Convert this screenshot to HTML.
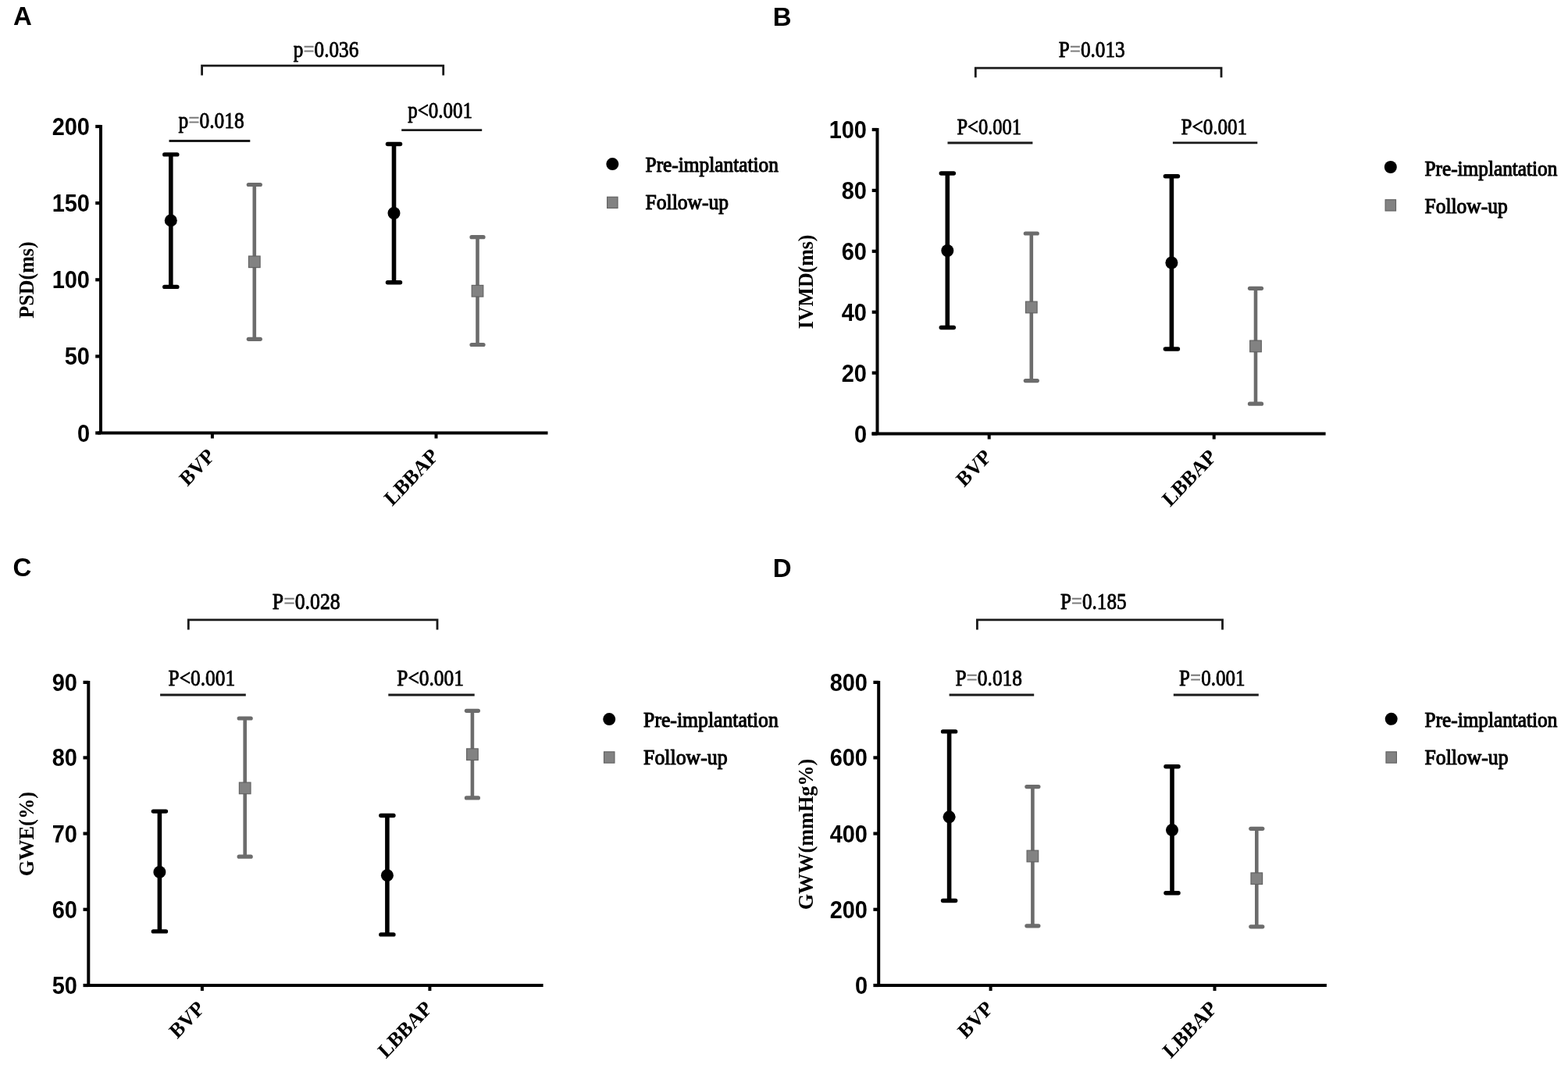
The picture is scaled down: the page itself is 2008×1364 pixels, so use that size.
<!DOCTYPE html>
<html><head><meta charset="utf-8"><title>Figure</title>
<style>html,body{margin:0;padding:0;background:#fff;overflow:hidden;} svg{display:block;}</style>
</head><body>
<svg width="2008" height="1364" viewBox="0 0 2008 1364">
<rect width="2008" height="1364" fill="#fff"/>
<path d="M129 160 V554.5 M125 554.5 H701.5" stroke="#000" stroke-width="4" fill="none"/>
<line x1="122.2" y1="554.5" x2="129" y2="554.5" stroke="#000" stroke-width="4.2"/>
<line x1="122.2" y1="456.4" x2="129" y2="456.4" stroke="#000" stroke-width="4.2"/>
<line x1="122.2" y1="358.3" x2="129" y2="358.3" stroke="#000" stroke-width="4.2"/>
<line x1="122.2" y1="260.1" x2="129" y2="260.1" stroke="#000" stroke-width="4.2"/>
<line x1="122.2" y1="162" x2="129" y2="162" stroke="#000" stroke-width="4.2"/>
<line x1="271.9" y1="554.5" x2="271.9" y2="561.5" stroke="#000" stroke-width="4"/>
<line x1="558.5" y1="554.5" x2="558.5" y2="561.5" stroke="#000" stroke-width="4"/>
<line x1="218.8" y1="197.9" x2="218.8" y2="367.4" stroke="#000" stroke-width="5.6"/>
<line x1="210.75" y1="197.9" x2="226.85" y2="197.9" stroke="#000" stroke-width="5.4" stroke-linecap="round"/>
<line x1="210.75" y1="367.4" x2="226.85" y2="367.4" stroke="#000" stroke-width="5.4" stroke-linecap="round"/>
<circle cx="218.8" cy="282.4" r="8" fill="#000"/>
<line x1="325.8" y1="236.5" x2="325.8" y2="434.3" stroke="#6c6c6c" stroke-width="4.6"/>
<line x1="318.30" y1="236.5" x2="333.30" y2="236.5" stroke="#6c6c6c" stroke-width="5.2" stroke-linecap="round"/>
<line x1="318.30" y1="434.3" x2="333.30" y2="434.3" stroke="#6c6c6c" stroke-width="5.2" stroke-linecap="round"/>
<rect x="318.50" y="328.00" width="14.6" height="14.6" fill="#828282" stroke="#636363" stroke-width="1.2"/>
<line x1="504.5" y1="184.5" x2="504.5" y2="361.7" stroke="#000" stroke-width="5.6"/>
<line x1="496.45" y1="184.5" x2="512.55" y2="184.5" stroke="#000" stroke-width="5.4" stroke-linecap="round"/>
<line x1="496.45" y1="361.7" x2="512.55" y2="361.7" stroke="#000" stroke-width="5.4" stroke-linecap="round"/>
<circle cx="504.5" cy="273" r="8" fill="#000"/>
<line x1="611.5" y1="303.7" x2="611.5" y2="441.5" stroke="#6c6c6c" stroke-width="4.6"/>
<line x1="604.00" y1="303.7" x2="619.00" y2="303.7" stroke="#6c6c6c" stroke-width="5.2" stroke-linecap="round"/>
<line x1="604.00" y1="441.5" x2="619.00" y2="441.5" stroke="#6c6c6c" stroke-width="5.2" stroke-linecap="round"/>
<rect x="604.20" y="365.40" width="14.6" height="14.6" fill="#828282" stroke="#636363" stroke-width="1.2"/>
<line x1="216.5" y1="180.5" x2="320.3" y2="180.5" stroke="#1a1a1a" stroke-width="2.8"/>
<line x1="514.2" y1="166.7" x2="617.2" y2="166.7" stroke="#1a1a1a" stroke-width="2.8"/>
<path d="M258.6 96.5 V84.2 H567.7 V96.5" stroke="#1a1a1a" stroke-width="2.8" fill="none"/>
<circle cx="784.3" cy="210.1" r="8" fill="#000"/>
<rect x="777.60" y="252.30" width="13.4" height="14.2" fill="#828282" stroke="#636363" stroke-width="1.2"/>
<path d="M1123.5 164 V555.5 M1116.4 555.5 H1697.6" stroke="#000" stroke-width="4" fill="none"/>
<line x1="1116.7" y1="555.5" x2="1123.5" y2="555.5" stroke="#000" stroke-width="4.2"/>
<line x1="1116.7" y1="477.6" x2="1123.5" y2="477.6" stroke="#000" stroke-width="4.2"/>
<line x1="1116.7" y1="399.7" x2="1123.5" y2="399.7" stroke="#000" stroke-width="4.2"/>
<line x1="1116.7" y1="321.8" x2="1123.5" y2="321.8" stroke="#000" stroke-width="4.2"/>
<line x1="1116.7" y1="243.9" x2="1123.5" y2="243.9" stroke="#000" stroke-width="4.2"/>
<line x1="1116.7" y1="166" x2="1123.5" y2="166" stroke="#000" stroke-width="4.2"/>
<line x1="1266.7" y1="555.5" x2="1266.7" y2="562.5" stroke="#000" stroke-width="4"/>
<line x1="1554.7" y1="555.5" x2="1554.7" y2="562.5" stroke="#000" stroke-width="4"/>
<line x1="1213.3" y1="222" x2="1213.3" y2="419.5" stroke="#000" stroke-width="5.6"/>
<line x1="1205.25" y1="222" x2="1221.35" y2="222" stroke="#000" stroke-width="5.4" stroke-linecap="round"/>
<line x1="1205.25" y1="419.5" x2="1221.35" y2="419.5" stroke="#000" stroke-width="5.4" stroke-linecap="round"/>
<circle cx="1213.3" cy="321" r="8" fill="#000"/>
<line x1="1320.8" y1="299" x2="1320.8" y2="487.6" stroke="#6c6c6c" stroke-width="4.6"/>
<line x1="1313.30" y1="299" x2="1328.30" y2="299" stroke="#6c6c6c" stroke-width="5.2" stroke-linecap="round"/>
<line x1="1313.30" y1="487.6" x2="1328.30" y2="487.6" stroke="#6c6c6c" stroke-width="5.2" stroke-linecap="round"/>
<rect x="1313.50" y="386.20" width="14.6" height="14.6" fill="#828282" stroke="#636363" stroke-width="1.2"/>
<line x1="1500.4" y1="225.8" x2="1500.4" y2="447" stroke="#000" stroke-width="5.6"/>
<line x1="1492.35" y1="225.8" x2="1508.45" y2="225.8" stroke="#000" stroke-width="5.4" stroke-linecap="round"/>
<line x1="1492.35" y1="447" x2="1508.45" y2="447" stroke="#000" stroke-width="5.4" stroke-linecap="round"/>
<circle cx="1500.4" cy="336.5" r="8" fill="#000"/>
<line x1="1608" y1="369.3" x2="1608" y2="517.2" stroke="#6c6c6c" stroke-width="4.6"/>
<line x1="1600.50" y1="369.3" x2="1615.50" y2="369.3" stroke="#6c6c6c" stroke-width="5.2" stroke-linecap="round"/>
<line x1="1600.50" y1="517.2" x2="1615.50" y2="517.2" stroke="#6c6c6c" stroke-width="5.2" stroke-linecap="round"/>
<rect x="1600.70" y="436.10" width="14.6" height="14.6" fill="#828282" stroke="#636363" stroke-width="1.2"/>
<line x1="1213.5" y1="183" x2="1322.4" y2="183" stroke="#1a1a1a" stroke-width="2.8"/>
<line x1="1501.9" y1="182.8" x2="1610.3" y2="182.8" stroke="#1a1a1a" stroke-width="2.8"/>
<path d="M1249.3 99.2 V87.1 H1564 V99.2" stroke="#1a1a1a" stroke-width="2.8" fill="none"/>
<circle cx="1780.8" cy="214" r="8" fill="#000"/>
<rect x="1774.10" y="255.80" width="13.4" height="14.2" fill="#828282" stroke="#636363" stroke-width="1.2"/>
<path d="M113.3 871.9 V1262 M107.6 1262 H695.6" stroke="#000" stroke-width="4" fill="none"/>
<line x1="106.5" y1="1262" x2="113.3" y2="1262" stroke="#000" stroke-width="4.2"/>
<line x1="106.5" y1="1164.8" x2="113.3" y2="1164.8" stroke="#000" stroke-width="4.2"/>
<line x1="106.5" y1="1067.6" x2="113.3" y2="1067.6" stroke="#000" stroke-width="4.2"/>
<line x1="106.5" y1="970.4" x2="113.3" y2="970.4" stroke="#000" stroke-width="4.2"/>
<line x1="106.5" y1="873.9" x2="113.3" y2="873.9" stroke="#000" stroke-width="4.2"/>
<line x1="258.9" y1="1262" x2="258.9" y2="1269" stroke="#000" stroke-width="4"/>
<line x1="550.4" y1="1262" x2="550.4" y2="1269" stroke="#000" stroke-width="4"/>
<line x1="204.4" y1="1039.1" x2="204.4" y2="1192.9" stroke="#000" stroke-width="5.6"/>
<line x1="196.35" y1="1039.1" x2="212.45" y2="1039.1" stroke="#000" stroke-width="5.4" stroke-linecap="round"/>
<line x1="196.35" y1="1192.9" x2="212.45" y2="1192.9" stroke="#000" stroke-width="5.4" stroke-linecap="round"/>
<circle cx="204.4" cy="1116.9" r="8" fill="#000"/>
<line x1="313.7" y1="920" x2="313.7" y2="1097.2" stroke="#6c6c6c" stroke-width="4.6"/>
<line x1="306.20" y1="920" x2="321.20" y2="920" stroke="#6c6c6c" stroke-width="5.2" stroke-linecap="round"/>
<line x1="306.20" y1="1097.2" x2="321.20" y2="1097.2" stroke="#6c6c6c" stroke-width="5.2" stroke-linecap="round"/>
<rect x="306.40" y="1002.10" width="14.6" height="14.6" fill="#828282" stroke="#636363" stroke-width="1.2"/>
<line x1="495.9" y1="1044.5" x2="495.9" y2="1196.9" stroke="#000" stroke-width="5.6"/>
<line x1="487.85" y1="1044.5" x2="503.95" y2="1044.5" stroke="#000" stroke-width="5.4" stroke-linecap="round"/>
<line x1="487.85" y1="1196.9" x2="503.95" y2="1196.9" stroke="#000" stroke-width="5.4" stroke-linecap="round"/>
<circle cx="495.9" cy="1121.2" r="8" fill="#000"/>
<line x1="604.9" y1="910.3" x2="604.9" y2="1021.9" stroke="#6c6c6c" stroke-width="4.6"/>
<line x1="597.40" y1="910.3" x2="612.40" y2="910.3" stroke="#6c6c6c" stroke-width="5.2" stroke-linecap="round"/>
<line x1="597.40" y1="1021.9" x2="612.40" y2="1021.9" stroke="#6c6c6c" stroke-width="5.2" stroke-linecap="round"/>
<rect x="597.60" y="958.90" width="14.6" height="14.6" fill="#828282" stroke="#636363" stroke-width="1.2"/>
<line x1="205.1" y1="890" x2="314.8" y2="890" stroke="#1a1a1a" stroke-width="2.8"/>
<line x1="497.3" y1="890" x2="607.7" y2="890" stroke="#1a1a1a" stroke-width="2.8"/>
<path d="M241.3 806.5 V793.9 H560 V806.5" stroke="#1a1a1a" stroke-width="2.8" fill="none"/>
<circle cx="780.2" cy="921.1" r="8" fill="#000"/>
<rect x="773.50" y="962.90" width="13.4" height="14.2" fill="#828282" stroke="#636363" stroke-width="1.2"/>
<path d="M1125.2 871.9 V1262 M1119.8 1262 H1698.9" stroke="#000" stroke-width="4" fill="none"/>
<line x1="1118.4" y1="1262" x2="1125.2" y2="1262" stroke="#000" stroke-width="4.2"/>
<line x1="1118.4" y1="1164.8" x2="1125.2" y2="1164.8" stroke="#000" stroke-width="4.2"/>
<line x1="1118.4" y1="1067.6" x2="1125.2" y2="1067.6" stroke="#000" stroke-width="4.2"/>
<line x1="1118.4" y1="970.4" x2="1125.2" y2="970.4" stroke="#000" stroke-width="4.2"/>
<line x1="1118.4" y1="873.9" x2="1125.2" y2="873.9" stroke="#000" stroke-width="4.2"/>
<line x1="1268.6" y1="1262" x2="1268.6" y2="1269" stroke="#000" stroke-width="4"/>
<line x1="1555.5" y1="1262" x2="1555.5" y2="1269" stroke="#000" stroke-width="4"/>
<line x1="1215.6" y1="936.9" x2="1215.6" y2="1153.5" stroke="#000" stroke-width="5.6"/>
<line x1="1207.55" y1="936.9" x2="1223.65" y2="936.9" stroke="#000" stroke-width="5.4" stroke-linecap="round"/>
<line x1="1207.55" y1="1153.5" x2="1223.65" y2="1153.5" stroke="#000" stroke-width="5.4" stroke-linecap="round"/>
<circle cx="1215.6" cy="1046.3" r="8" fill="#000"/>
<line x1="1322.4" y1="1007.6" x2="1322.4" y2="1185.8" stroke="#6c6c6c" stroke-width="4.6"/>
<line x1="1314.90" y1="1007.6" x2="1329.90" y2="1007.6" stroke="#6c6c6c" stroke-width="5.2" stroke-linecap="round"/>
<line x1="1314.90" y1="1185.8" x2="1329.90" y2="1185.8" stroke="#6c6c6c" stroke-width="5.2" stroke-linecap="round"/>
<rect x="1315.10" y="1089.20" width="14.6" height="14.6" fill="#828282" stroke="#636363" stroke-width="1.2"/>
<line x1="1501" y1="981.7" x2="1501" y2="1143.8" stroke="#000" stroke-width="5.6"/>
<line x1="1492.95" y1="981.7" x2="1509.05" y2="981.7" stroke="#000" stroke-width="5.4" stroke-linecap="round"/>
<line x1="1492.95" y1="1143.8" x2="1509.05" y2="1143.8" stroke="#000" stroke-width="5.4" stroke-linecap="round"/>
<circle cx="1501" cy="1063.1" r="8" fill="#000"/>
<line x1="1609.3" y1="1061.3" x2="1609.3" y2="1186.8" stroke="#6c6c6c" stroke-width="4.6"/>
<line x1="1601.80" y1="1061.3" x2="1616.80" y2="1061.3" stroke="#6c6c6c" stroke-width="5.2" stroke-linecap="round"/>
<line x1="1601.80" y1="1186.8" x2="1616.80" y2="1186.8" stroke="#6c6c6c" stroke-width="5.2" stroke-linecap="round"/>
<rect x="1602.00" y="1117.90" width="14.6" height="14.6" fill="#828282" stroke="#636363" stroke-width="1.2"/>
<line x1="1215.6" y1="890" x2="1324.2" y2="890" stroke="#1a1a1a" stroke-width="2.8"/>
<line x1="1502.8" y1="890" x2="1611.8" y2="890" stroke="#1a1a1a" stroke-width="2.8"/>
<path d="M1251.4 806.5 V793.9 H1565.5 V806.5" stroke="#1a1a1a" stroke-width="2.8" fill="none"/>
<circle cx="1781.7" cy="920.8" r="8" fill="#000"/>
<rect x="1775.00" y="962.90" width="13.4" height="14.2" fill="#828282" stroke="#636363" stroke-width="1.2"/>
<text x="16.90" y="32.20" font-family='"Liberation Sans", Arial, sans-serif' font-size="33" font-weight="bold" fill="#000">A</text>
<text x="115.00" y="565.50" font-family='"Liberation Sans", Arial, sans-serif' font-size="31" font-weight="bold" fill="#000" text-anchor="end" textLength="16.12" lengthAdjust="spacingAndGlyphs">0</text>
<text x="115.00" y="467.40" font-family='"Liberation Sans", Arial, sans-serif' font-size="31" font-weight="bold" fill="#000" text-anchor="end" textLength="32.24" lengthAdjust="spacingAndGlyphs">50</text>
<text x="115.00" y="369.30" font-family='"Liberation Sans", Arial, sans-serif' font-size="31" font-weight="bold" fill="#000" text-anchor="end" textLength="48.36" lengthAdjust="spacingAndGlyphs">100</text>
<text x="115.00" y="271.10" font-family='"Liberation Sans", Arial, sans-serif' font-size="31" font-weight="bold" fill="#000" text-anchor="end" textLength="48.36" lengthAdjust="spacingAndGlyphs">150</text>
<text x="115.00" y="173.00" font-family='"Liberation Sans", Arial, sans-serif' font-size="31" font-weight="bold" fill="#000" text-anchor="end" textLength="48.36" lengthAdjust="spacingAndGlyphs">200</text>
<text transform="translate(276.40,585.50) scale(0.955,1) rotate(-45)" font-family='"Liberation Serif", "Times New Roman", serif' font-size="27" font-weight="bold" fill="#000" text-anchor="end">BVP</text>
<text transform="translate(563.00,585.50) scale(0.955,1) rotate(-45)" font-family='"Liberation Serif", "Times New Roman", serif' font-size="27" font-weight="bold" fill="#000" text-anchor="end">LBBAP</text>
<text transform="translate(43.20,358.55) rotate(-90)" font-family='"Liberation Serif", "Times New Roman", serif' font-size="27" font-weight="bold" fill="#000" text-anchor="middle" textLength="98.30" lengthAdjust="spacingAndGlyphs">PSD(ms)</text>
<text x="228.50" y="164.30" font-family='"Liberation Serif", "Times New Roman", serif' font-size="30" font-weight="normal" fill="#000" stroke="#000" stroke-width="0.9" stroke-linejoin="round" textLength="84.23" lengthAdjust="spacingAndGlyphs">p<tspan fill="#7a7a7a" stroke="#7a7a7a" stroke-width="0.3">=</tspan>0.018</text>
<text x="522.20" y="150.80" font-family='"Liberation Serif", "Times New Roman", serif' font-size="30" font-weight="normal" fill="#000" stroke="#000" stroke-width="0.9" stroke-linejoin="round" textLength="82.83" lengthAdjust="spacingAndGlyphs">p&lt;0.001</text>
<text x="375.80" y="73.20" font-family='"Liberation Serif", "Times New Roman", serif' font-size="30" font-weight="normal" fill="#000" stroke="#000" stroke-width="0.9" stroke-linejoin="round" textLength="83.42" lengthAdjust="spacingAndGlyphs">p<tspan fill="#7a7a7a" stroke="#7a7a7a" stroke-width="0.3">=</tspan>0.036</text>
<text x="826.60" y="220.40" font-family='"Liberation Serif", "Times New Roman", serif' font-size="26.5" font-weight="normal" fill="#000" stroke="#000" stroke-width="1.1" stroke-linejoin="round" textLength="170.22" lengthAdjust="spacingAndGlyphs">Pre-implantation</text>
<text x="826.60" y="268.40" font-family='"Liberation Serif", "Times New Roman", serif' font-size="26.5" font-weight="normal" fill="#000" stroke="#000" stroke-width="1.1" stroke-linejoin="round" textLength="106.46" lengthAdjust="spacingAndGlyphs">Follow-up</text>
<text x="989.80" y="32.60" font-family='"Liberation Sans", Arial, sans-serif' font-size="33" font-weight="bold" fill="#000">B</text>
<text x="1110.00" y="566.50" font-family='"Liberation Sans", Arial, sans-serif' font-size="31" font-weight="bold" fill="#000" text-anchor="end" textLength="16.12" lengthAdjust="spacingAndGlyphs">0</text>
<text x="1110.00" y="488.60" font-family='"Liberation Sans", Arial, sans-serif' font-size="31" font-weight="bold" fill="#000" text-anchor="end" textLength="32.24" lengthAdjust="spacingAndGlyphs">20</text>
<text x="1110.00" y="410.70" font-family='"Liberation Sans", Arial, sans-serif' font-size="31" font-weight="bold" fill="#000" text-anchor="end" textLength="32.24" lengthAdjust="spacingAndGlyphs">40</text>
<text x="1110.00" y="332.80" font-family='"Liberation Sans", Arial, sans-serif' font-size="31" font-weight="bold" fill="#000" text-anchor="end" textLength="32.24" lengthAdjust="spacingAndGlyphs">60</text>
<text x="1110.00" y="254.90" font-family='"Liberation Sans", Arial, sans-serif' font-size="31" font-weight="bold" fill="#000" text-anchor="end" textLength="32.24" lengthAdjust="spacingAndGlyphs">80</text>
<text x="1110.00" y="177.00" font-family='"Liberation Sans", Arial, sans-serif' font-size="31" font-weight="bold" fill="#000" text-anchor="end" textLength="48.36" lengthAdjust="spacingAndGlyphs">100</text>
<text transform="translate(1271.20,586.50) scale(0.955,1) rotate(-45)" font-family='"Liberation Serif", "Times New Roman", serif' font-size="27" font-weight="bold" fill="#000" text-anchor="end">BVP</text>
<text transform="translate(1559.20,586.50) scale(0.955,1) rotate(-45)" font-family='"Liberation Serif", "Times New Roman", serif' font-size="27" font-weight="bold" fill="#000" text-anchor="end">LBBAP</text>
<text transform="translate(1041.30,360.90) rotate(-90)" font-family='"Liberation Serif", "Times New Roman", serif' font-size="27" font-weight="bold" fill="#000" text-anchor="middle" textLength="120.80" lengthAdjust="spacingAndGlyphs">IVMD(ms)</text>
<text x="1225.50" y="172.40" font-family='"Liberation Serif", "Times New Roman", serif' font-size="30" font-weight="normal" fill="#000" stroke="#000" stroke-width="0.9" stroke-linejoin="round" textLength="82.54" lengthAdjust="spacingAndGlyphs">P&lt;0.001</text>
<text x="1512.60" y="172.40" font-family='"Liberation Serif", "Times New Roman", serif' font-size="30" font-weight="normal" fill="#000" stroke="#000" stroke-width="0.9" stroke-linejoin="round" textLength="84.45" lengthAdjust="spacingAndGlyphs">P&lt;0.001</text>
<text x="1355.70" y="73.40" font-family='"Liberation Serif", "Times New Roman", serif' font-size="30" font-weight="normal" fill="#000" stroke="#000" stroke-width="0.9" stroke-linejoin="round" textLength="85.02" lengthAdjust="spacingAndGlyphs">P<tspan fill="#7a7a7a" stroke="#7a7a7a" stroke-width="0.3">=</tspan>0.013</text>
<text x="1824.50" y="224.80" font-family='"Liberation Serif", "Times New Roman", serif' font-size="26.5" font-weight="normal" fill="#000" stroke="#000" stroke-width="1.1" stroke-linejoin="round" textLength="169.81" lengthAdjust="spacingAndGlyphs">Pre-implantation</text>
<text x="1824.50" y="272.60" font-family='"Liberation Serif", "Times New Roman", serif' font-size="26.5" font-weight="normal" fill="#000" stroke="#000" stroke-width="1.1" stroke-linejoin="round" textLength="106.24" lengthAdjust="spacingAndGlyphs">Follow-up</text>
<text x="16.60" y="738.00" font-family='"Liberation Sans", Arial, sans-serif' font-size="33" font-weight="bold" fill="#000">C</text>
<text x="99.00" y="1273.00" font-family='"Liberation Sans", Arial, sans-serif' font-size="31" font-weight="bold" fill="#000" text-anchor="end" textLength="32.24" lengthAdjust="spacingAndGlyphs">50</text>
<text x="99.00" y="1175.80" font-family='"Liberation Sans", Arial, sans-serif' font-size="31" font-weight="bold" fill="#000" text-anchor="end" textLength="32.24" lengthAdjust="spacingAndGlyphs">60</text>
<text x="99.00" y="1078.60" font-family='"Liberation Sans", Arial, sans-serif' font-size="31" font-weight="bold" fill="#000" text-anchor="end" textLength="32.24" lengthAdjust="spacingAndGlyphs">70</text>
<text x="99.00" y="981.40" font-family='"Liberation Sans", Arial, sans-serif' font-size="31" font-weight="bold" fill="#000" text-anchor="end" textLength="32.24" lengthAdjust="spacingAndGlyphs">80</text>
<text x="99.00" y="884.90" font-family='"Liberation Sans", Arial, sans-serif' font-size="31" font-weight="bold" fill="#000" text-anchor="end" textLength="32.24" lengthAdjust="spacingAndGlyphs">90</text>
<text transform="translate(263.40,1293.00) scale(0.955,1) rotate(-45)" font-family='"Liberation Serif", "Times New Roman", serif' font-size="27" font-weight="bold" fill="#000" text-anchor="end">BVP</text>
<text transform="translate(554.90,1293.00) scale(0.955,1) rotate(-45)" font-family='"Liberation Serif", "Times New Roman", serif' font-size="27" font-weight="bold" fill="#000" text-anchor="end">LBBAP</text>
<text transform="translate(43.00,1068.15) rotate(-90)" font-family='"Liberation Serif", "Times New Roman", serif' font-size="27" font-weight="bold" fill="#000" text-anchor="middle" textLength="108.30" lengthAdjust="spacingAndGlyphs">GWE(%)</text>
<text x="215.60" y="878.20" font-family='"Liberation Serif", "Times New Roman", serif' font-size="30" font-weight="normal" fill="#000" stroke="#000" stroke-width="0.9" stroke-linejoin="round" textLength="85.55" lengthAdjust="spacingAndGlyphs">P&lt;0.001</text>
<text x="508.30" y="878.20" font-family='"Liberation Serif", "Times New Roman", serif' font-size="30" font-weight="normal" fill="#000" stroke="#000" stroke-width="0.9" stroke-linejoin="round" textLength="85.68" lengthAdjust="spacingAndGlyphs">P&lt;0.001</text>
<text x="348.80" y="780.20" font-family='"Liberation Serif", "Times New Roman", serif' font-size="30" font-weight="normal" fill="#000" stroke="#000" stroke-width="0.9" stroke-linejoin="round" textLength="86.94" lengthAdjust="spacingAndGlyphs">P<tspan fill="#7a7a7a" stroke="#7a7a7a" stroke-width="0.3">=</tspan>0.028</text>
<text x="824.10" y="930.90" font-family='"Liberation Serif", "Times New Roman", serif' font-size="26.5" font-weight="normal" fill="#000" stroke="#000" stroke-width="1.1" stroke-linejoin="round" textLength="172.71" lengthAdjust="spacingAndGlyphs">Pre-implantation</text>
<text x="824.10" y="979.20" font-family='"Liberation Serif", "Times New Roman", serif' font-size="26.5" font-weight="normal" fill="#000" stroke="#000" stroke-width="1.1" stroke-linejoin="round" textLength="107.52" lengthAdjust="spacingAndGlyphs">Follow-up</text>
<text x="989.80" y="738.60" font-family='"Liberation Sans", Arial, sans-serif' font-size="33" font-weight="bold" fill="#000">D</text>
<text x="1111.00" y="1273.00" font-family='"Liberation Sans", Arial, sans-serif' font-size="31" font-weight="bold" fill="#000" text-anchor="end" textLength="16.12" lengthAdjust="spacingAndGlyphs">0</text>
<text x="1111.00" y="1175.80" font-family='"Liberation Sans", Arial, sans-serif' font-size="31" font-weight="bold" fill="#000" text-anchor="end" textLength="48.36" lengthAdjust="spacingAndGlyphs">200</text>
<text x="1111.00" y="1078.60" font-family='"Liberation Sans", Arial, sans-serif' font-size="31" font-weight="bold" fill="#000" text-anchor="end" textLength="48.36" lengthAdjust="spacingAndGlyphs">400</text>
<text x="1111.00" y="981.40" font-family='"Liberation Sans", Arial, sans-serif' font-size="31" font-weight="bold" fill="#000" text-anchor="end" textLength="48.36" lengthAdjust="spacingAndGlyphs">600</text>
<text x="1111.00" y="884.90" font-family='"Liberation Sans", Arial, sans-serif' font-size="31" font-weight="bold" fill="#000" text-anchor="end" textLength="48.36" lengthAdjust="spacingAndGlyphs">800</text>
<text transform="translate(1273.10,1293.00) scale(0.955,1) rotate(-45)" font-family='"Liberation Serif", "Times New Roman", serif' font-size="27" font-weight="bold" fill="#000" text-anchor="end">BVP</text>
<text transform="translate(1560.00,1293.00) scale(0.955,1) rotate(-45)" font-family='"Liberation Serif", "Times New Roman", serif' font-size="27" font-weight="bold" fill="#000" text-anchor="end">LBBAP</text>
<text transform="translate(1041.00,1068.50) rotate(-90)" font-family='"Liberation Serif", "Times New Roman", serif' font-size="27" font-weight="bold" fill="#000" text-anchor="middle" textLength="193.60" lengthAdjust="spacingAndGlyphs">GWW(mmHg%)</text>
<text x="1223.40" y="878.20" font-family='"Liberation Serif", "Times New Roman", serif' font-size="30" font-weight="normal" fill="#000" stroke="#000" stroke-width="0.9" stroke-linejoin="round" textLength="85.63" lengthAdjust="spacingAndGlyphs">P<tspan fill="#7a7a7a" stroke="#7a7a7a" stroke-width="0.3">=</tspan>0.018</text>
<text x="1510.10" y="878.20" font-family='"Liberation Serif", "Times New Roman", serif' font-size="30" font-weight="normal" fill="#000" stroke="#000" stroke-width="0.9" stroke-linejoin="round" textLength="84.33" lengthAdjust="spacingAndGlyphs">P<tspan fill="#7a7a7a" stroke="#7a7a7a" stroke-width="0.3">=</tspan>0.001</text>
<text x="1357.90" y="780.20" font-family='"Liberation Serif", "Times New Roman", serif' font-size="30" font-weight="normal" fill="#000" stroke="#000" stroke-width="0.9" stroke-linejoin="round" textLength="84.66" lengthAdjust="spacingAndGlyphs">P<tspan fill="#7a7a7a" stroke="#7a7a7a" stroke-width="0.3">=</tspan>0.185</text>
<text x="1824.60" y="931.20" font-family='"Liberation Serif", "Times New Roman", serif' font-size="26.5" font-weight="normal" fill="#000" stroke="#000" stroke-width="1.1" stroke-linejoin="round" textLength="169.71" lengthAdjust="spacingAndGlyphs">Pre-implantation</text>
<text x="1824.60" y="979.40" font-family='"Liberation Serif", "Times New Roman", serif' font-size="26.5" font-weight="normal" fill="#000" stroke="#000" stroke-width="1.1" stroke-linejoin="round" textLength="106.95" lengthAdjust="spacingAndGlyphs">Follow-up</text>
</svg>
</body></html>
